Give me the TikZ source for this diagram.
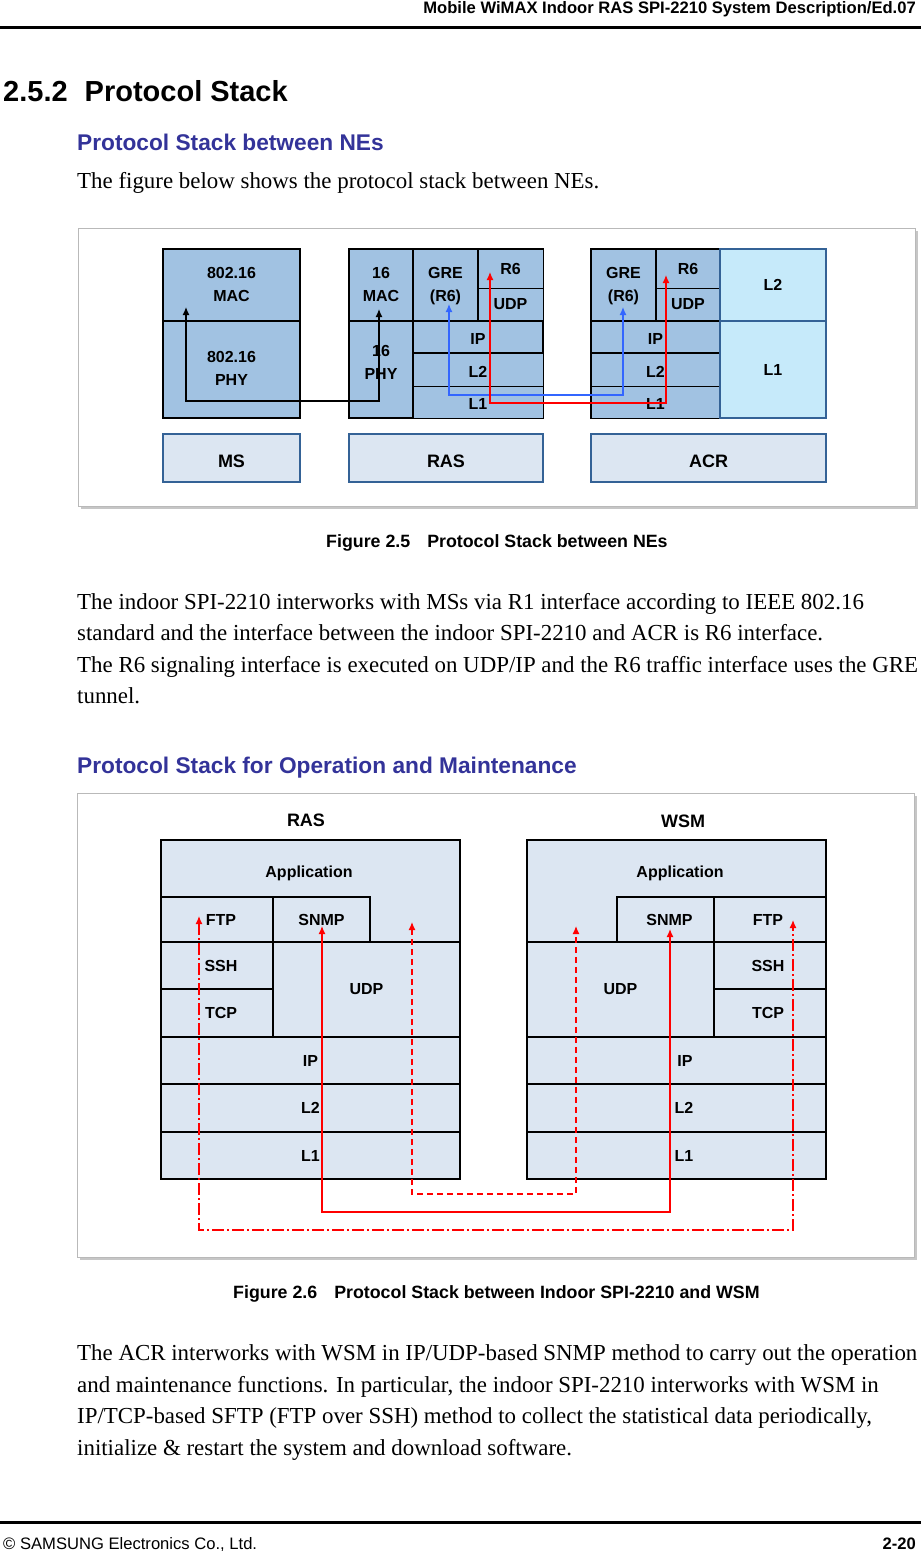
\documentclass[tikz,border=0pt]{standalone}
\usepackage{fontspec}
\setmainfont{Liberation Serif}
\setsansfont{Liberation Sans}
\usetikzlibrary{positioning, arrows.meta, fit}

\definecolor{stackblue}{RGB}{161,194,226}
\definecolor{stackcyan}{RGB}{198,234,250}
\definecolor{stackpale}{RGB}{220,230,242}
\definecolor{boxedge}{RGB}{52,98,150}
\definecolor{headblue}{RGB}{51,51,153}
\definecolor{linkblue}{RGB}{51,102,255}
\definecolor{linkred}{RGB}{255,0,0}

\newcommand{\fsz}[1]{\fontsize{#1}{23}\selectfont}
\newcommand{\twoline}[2]{\begin{tabular}{@{}c@{}}#1\\#2\end{tabular}}

\begin{document}
\begin{tikzpicture}[
    x=1pt, y=-1pt,
    bodyline/.style = {anchor=base west, inner sep=0pt, font=\fsz{22.9}},
    bluehead/.style = {anchor=base west, inner sep=0pt, text=headblue, font=\sffamily\bfseries\fsz{22.7}},
    figcap/.style = {anchor=base west, inner sep=0pt, font=\sffamily\bfseries\fsz{17.8}},
    stacklabel/.style = {inner sep=0pt, font=\sffamily\bfseries\fsz{16}},
    namelabel/.style = {stacklabel, font=\sffamily\bfseries\fsz{18}},
    tag/.style = {label={[stacklabel]center:#1}},
    lowtag/.style = {label={[stacklabel, yshift=-2pt]center:#1}},
    cell/.style = {draw, line width=1.8pt, inner sep=0pt},
    darkcell/.style = {cell, fill=stackblue},
    thincell/.style = {darkcell, line width=0.9pt},
    cyancell/.style = {cell, fill=stackcyan, draw=boxedge, line width=1.4pt},
    namebox/.style = {cell, fill=stackpale, draw=boxedge, line width=1.5pt, label={[namelabel, yshift=-3pt]center:#1}},
    palecell/.style = {cell, fill=stackpale, line width=1.4pt},
    thickedge/.style = {draw, line width=1.8pt},
    frame/.style = {draw=gray!55, line width=0.8pt, fill=white},
    frameshade/.style = {fill=gray!45},
    link/.style = {line width=1.3pt, {Latex[length=8pt,width=7pt]}-{Latex[length=8pt,width=7pt]}},
    dashdotted link/.style = {link, dash pattern=on 12pt off 3pt on 2pt off 3pt},
    dashed link/.style = {link, dash pattern=on 6pt off 4pt}
]
    \useasboundingbox (0,0) rectangle (921,1551);

    % page header and footer
    \node[anchor=base east, inner sep=0pt, font=\sffamily\bfseries\fsz{16.6}] (header) at (916,13) {Mobile WiMAX Indoor RAS SPI-2210 System Description/Ed.07};
    \draw[line width=3pt] (0,27) -- (921,27);
    \draw[line width=3pt] (0,1522) -- (921,1522);
    \node[anchor=base west, inner sep=0pt, font=\sffamily\fsz{16.6}] (copyright) at (3,1549) {© SAMSUNG Electronics Co., Ltd.};
    \node[anchor=base east, inner sep=0pt, font=\sffamily\bfseries\fsz{16.6}] (pageno) at (916,1549) {2-20};

    % section heading and text
    \node[anchor=base west, inner sep=0pt, font=\sffamily\bfseries\fsz{29}] (section) at (3,101) {2.5.2\hspace{17pt}Protocol Stack};
    \node[bluehead] (headNE) at (77,150) {Protocol Stack between NEs};
    \node[bodyline] (introNE) at (77,188) {The figure below shows the protocol stack between NEs.};

    % figure 2.5: stacks between NEs
    \fill[frameshade] (81,231) rectangle (918,509);
    \draw[frame] (78,228) rectangle (915,506);

    \node[darkcell, fit={(163,249) (300,321)}, tag={\twoline{802.16}{MAC}}] (msmac) {};
    \node[darkcell, fit={(163,321) (300,418)}, tag={\twoline{802.16}{PHY}}] (msphy) {};

    \node[darkcell, fit={(349,249) (413,321)}, tag={\twoline{16}{MAC}}] (rasmac) {};
    \node[darkcell, fit={(349,321) (413,418)}, label={[stacklabel, yshift=6pt]center:\twoline{16}{PHY}}] (rasphy) {};
    \node[darkcell, fit={(413,249) (478,321)}, tag={\twoline{GRE}{(R6)}}] (rasgre) {};
    \node[thincell, fit={(478,249) (543,288)}, tag=R6] (rasrsix) {};
    \node[thincell, fit={(478,288) (543,321)}, tag=UDP] (rasudp) {};
    \node[darkcell, fit={(413,321) (543,353)}, lowtag=IP] (rasip) {};
    \node[thincell, fit={(413,353) (543,386)}, lowtag=L2] (rasltwo) {};
    \node[thincell, fit={(413,386) (543,418)}, lowtag=L1] (raslone) {};
    \draw[thickedge] (rasrsix.north west) rectangle (rasudp.south east);
    \draw[thickedge] (rasltwo.north west) rectangle (raslone.south east);

    \node[darkcell, fit={(591,249) (656,321)}, tag={\twoline{GRE}{(R6)}}] (acrgre) {};
    \node[thincell, fit={(656,249) (720,288)}, tag=R6] (acrrsix) {};
    \node[thincell, fit={(656,288) (720,321)}, tag=UDP] (acrudp) {};
    \node[darkcell, fit={(591,321) (720,353)}, lowtag=IP] (acrip) {};
    \node[thincell, fit={(591,353) (720,386)}, lowtag=L2] (acrltwo) {};
    \node[thincell, fit={(591,386) (720,418)}, lowtag=L1] (acrlone) {};
    \draw[thickedge] (acrrsix.north west) rectangle (acrudp.south east);
    \draw[thickedge] (acrltwo.north west) rectangle (acrlone.south east);
    \node[cyancell, fit={(720,249) (826,321)}, tag=L2] (acrlinktwo) {};
    \node[cyancell, fit={(720,321) (826,418)}, tag=L1] (acrlinkone) {};

    \node[namebox=MS, fit={(163,434) (300,482)}] (msname) {};
    \node[namebox=RAS, fit={(349,434) (543,482)}] (rasname) {};
    \node[namebox=ACR, fit={(591,434) (826,482)}] (acrname) {};

    \coordinate (msTip) at (186,307);
    \coordinate (rasTip) at (379,309);
    \coordinate (rasGreTip) at (449,304);
    \coordinate (acrGreTip) at (623,307);
    \coordinate (rasRsixTip) at (490,272);
    \coordinate (acrRsixTip) at (666,275);
    \draw[link] (msTip) -- ++(0,94) -| (rasTip);
    \draw[link, linkblue] (rasGreTip) -- ++(0,91) -| (acrGreTip);
    \draw[link, linkred] (rasRsixTip) -- ++(0,131) -| (acrRsixTip);

    \node[figcap] (capNE) at (326,547) {Figure 2.5\hspace{17pt}Protocol Stack between NEs};

    \node[bodyline] (textA) at (77,609) {The indoor SPI-2210 interworks with MSs via R1 interface according to IEEE 802.16};
    \node[bodyline] (textB) at (77,640) {standard and the interface between the indoor SPI-2210 and ACR is R6 interface.};
    \node[bodyline] (textC) at (77,672) {The R6 signaling interface is executed on UDP/IP and the R6 traffic interface uses the GRE};
    \node[bodyline] (textD) at (77,703) {tunnel.};

    % figure 2.6: stacks for operation and maintenance
    \node[bluehead] (headOM) at (77,773) {Protocol Stack for Operation and Maintenance};
    \fill[frameshade] (80,796) rectangle (917,1260);
    \draw[frame] (77,793) rectangle (914,1257);

    \node[namelabel] (omrastitle) at (306,820) {RAS};
    \node[namelabel] (omwsmtitle) at (683,821) {WSM};

    \fill[stackpale] (161,840) rectangle (460,1179);
    \node[stacklabel] (omrasapp) at (309,873) {Application};
    \node[palecell, fit={(161,897) (273,942)}, tag={\hspace*{8pt}FTP}] (omrasftp) {};
    \node[palecell, fit={(273,897) (370,942)}, tag=SNMP] (omrassnmp) {};
    \node[palecell, fit={(161,942) (273,989)}, tag={\hspace*{8pt}SSH}] (omrasssh) {};
    \node[palecell, fit={(161,989) (273,1037)}, tag={\hspace*{8pt}TCP}] (omrastcp) {};
    \node[palecell, fit={(273,942) (460,1037)}, tag=UDP] (omrasudp) {};
    \node[palecell, fit={(161,1037) (460,1084)}, tag=IP] (omrasip) {};
    \node[palecell, fit={(161,1084) (460,1132)}, tag=L2] (omrasltwo) {};
    \node[palecell, fit={(161,1132) (460,1179)}, tag=L1] (omraslone) {};
    \draw[line width=2pt] (161,840) rectangle (460,1179);

    \fill[stackpale] (527,840) rectangle (826,1179);
    \node[stacklabel] (omwsmapp) at (680,873) {Application};
    \node[palecell, fit={(617,897) (714,942)}, tag={\hspace*{8pt}SNMP}] (omwsmsnmp) {};
    \node[palecell, fit={(714,897) (826,942)}, tag={FTP\hspace*{4pt}}] (omwsmftp) {};
    \node[palecell, fit={(527,942) (714,1037)}, tag=UDP] (omwsmudp) {};
    \node[palecell, fit={(714,942) (826,989)}, tag={SSH\hspace*{4pt}}] (omwsmssh) {};
    \node[palecell, fit={(714,989) (826,1037)}, tag={TCP\hspace*{4pt}}] (omwsmtcp) {};
    \node[palecell, fit={(527,1037) (826,1084)}, tag={\hspace*{17pt}IP}] (omwsmip) {};
    \node[palecell, fit={(527,1084) (826,1132)}, tag={\hspace*{15pt}L2}] (omwsmltwo) {};
    \node[palecell, fit={(527,1132) (826,1179)}, tag={\hspace*{15pt}L1}] (omwsmlone) {};
    \draw[line width=2pt] (527,840) rectangle (826,1179);

    \coordinate (rasFtpTip) at (199,916);
    \coordinate (wsmFtpTip) at (793,920);
    \coordinate (rasSnmpTip) at (322,926);
    \coordinate (wsmSnmpTip) at (670,929);
    \coordinate (rasUdpTip) at (412,922);
    \coordinate (wsmUdpTip) at (576,926);
    \draw[dashdotted link, linkred] (rasFtpTip) -- ++(0,314) -| (wsmFtpTip);
    \draw[link, linkred] (rasSnmpTip) -- ++(0,286) -| (wsmSnmpTip);
    \draw[dashed link, linkred] (rasUdpTip) -- ++(0,272) -| (wsmUdpTip);

    \node[figcap] (capOM) at (233,1298) {Figure 2.6\hspace{17pt}Protocol Stack between Indoor SPI-2210 and WSM};

    \node[bodyline] (textE) at (77,1360) {The ACR interworks with WSM in IP/UDP-based SNMP method to carry out the operation};
    \node[bodyline] (textF) at (77,1392) {and maintenance functions. In particular, the indoor SPI-2210 interworks with WSM in};
    \node[bodyline] (textG) at (77,1423) {IP/TCP-based SFTP (FTP over SSH) method to collect the statistical data periodically,};
    \node[bodyline] (textH) at (77,1455) {initialize \& restart the system and download software.};
\end{tikzpicture}
\end{document}
